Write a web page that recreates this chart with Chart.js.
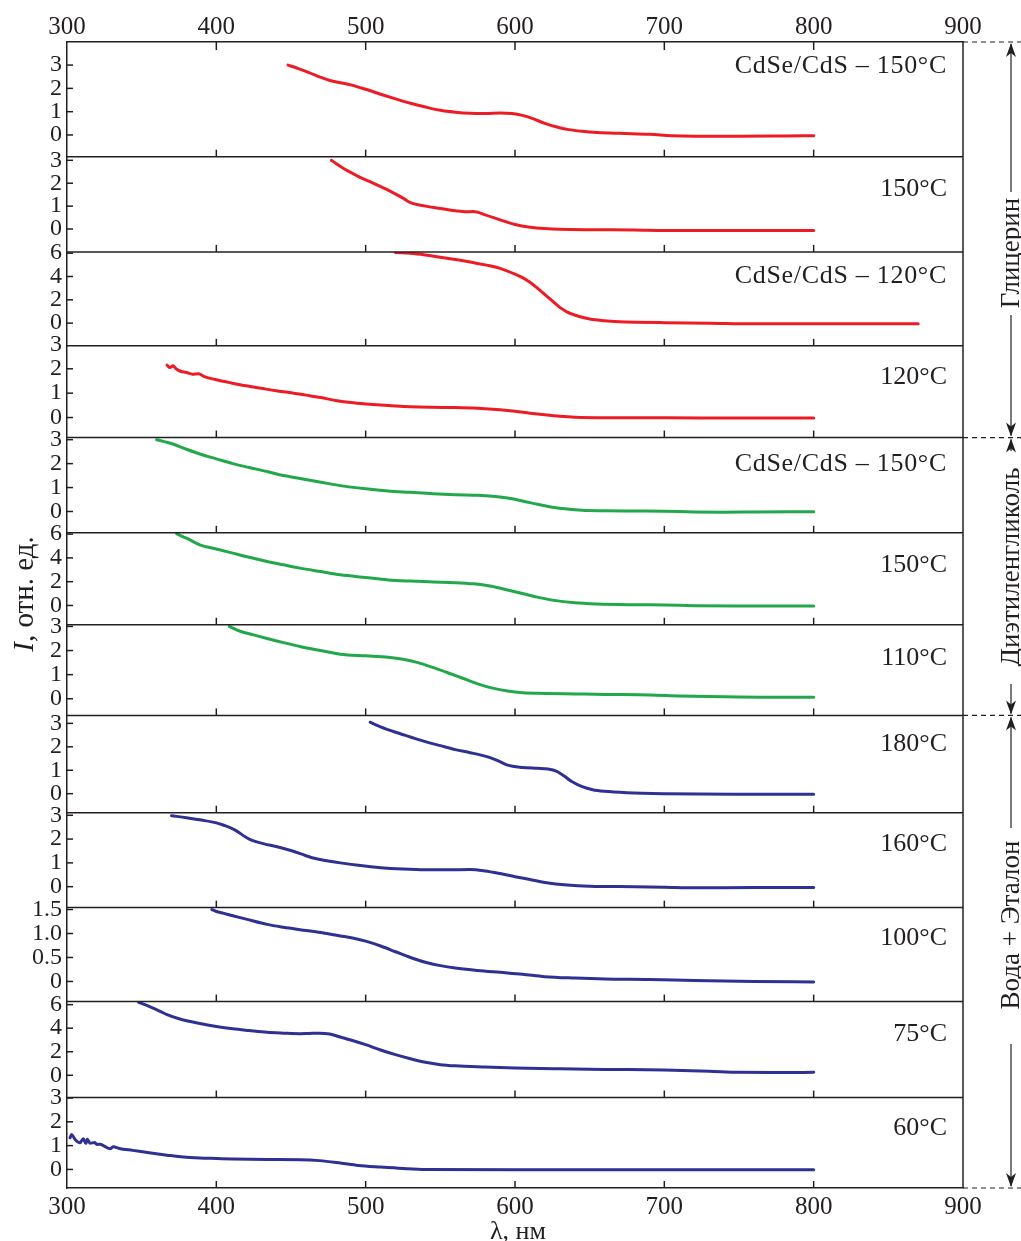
<!DOCTYPE html>
<html><head><meta charset="utf-8">
<script src="https://cdn.jsdelivr.net/npm/chart.js@4.4.1/dist/chart.umd.min.js"></script>
<style>html,body{margin:0;padding:0;background:#fff}canvas{display:block}</style>
</head><body>
<canvas id="c" width="1021" height="1241"></canvas>
<script>
// ---------- DATA ----------
const xTickValues = [300, 400, 500, 600, 700, 800, 900];

const panelLabels = ['CdSe/CdS – 150°C', '150°C', 'CdSe/CdS – 120°C', '120°C',
  'CdSe/CdS – 150°C', '150°C', '110°C',
  '180°C', '160°C', '100°C', '75°C', '60°C'];

const groupNames = ['Глицерин', 'Диэтиленгликоль', 'Вода + Эталон'];

const yTickValues = [[0,1,2,3],[0,1,2,3],[0,2,4,6],[0,1,2,3],[0,1,2,3],[0,2,4,6],[0,1,2,3],[0,1,2,3],[0,1,2,3],[0,0.5,1,1.5],[0,2,4,6],[0,1,2,3]];
const yTickLabels = [['0','1','2','3'],['0','1','2','3'],['0','2','4','6'],['0','1','2','3'],['0','1','2','3'],['0','2','4','6'],['0','1','2','3'],['0','1','2','3'],['0','1','2','3'],['0','0.5','1.0','1.5'],['0','2','4','6'],['0','1','2','3']];

// Glycerin
const wl_g_cds150 = [448,455,462,470,476,483,490,500,510,520,530,540,550,560,570,580,590,598,605,612,620,628,636,645,655,670,690,705,720,750,780,800];
const I_g_cds150  = [3.0,2.85,2.68,2.47,2.34,2.24,2.15,1.96,1.75,1.55,1.36,1.2,1.06,0.98,0.93,0.92,0.94,0.92,0.84,0.7,0.5,0.34,0.23,0.16,0.11,0.07,0.03,-0.03,-0.05,-0.05,-0.04,-0.03];
const wl_g_150 = [477,485,495,505,515,525,530,540,550,560,567,572,580,590,600,610,620,630,650,680,700,750,800];
const I_g_150  = [3.0,2.65,2.3,2.0,1.7,1.35,1.15,1.0,0.9,0.8,0.75,0.76,0.62,0.4,0.2,0.08,0.02,-0.01,-0.03,-0.04,-0.06,-0.06,-0.06];
const wl_g_cds120 = [520,530,540,550,560,570,580,590,600,605,610,615,620,625,630,635,640,645,650,660,670,680,700,730,760,800,840,870];
const I_g_cds120  = [6.05,6.0,5.85,5.65,5.45,5.25,5.0,4.7,4.2,3.9,3.5,3.0,2.45,1.9,1.35,0.95,0.7,0.5,0.35,0.2,0.12,0.08,0.04,0.0,-0.05,-0.05,-0.06,-0.06];
const wl_g_120 = [367,369,371,373,376,380,384,388,392,400,410,420,430,440,450,460,470,480,490,500,510,520,530,545,560,575,590,600,610,620,630,640,660,700,750,800];
const I_g_120  = [2.15,2.05,2.12,2.0,1.9,1.85,1.78,1.8,1.68,1.55,1.42,1.3,1.2,1.1,1.02,0.92,0.82,0.7,0.62,0.56,0.51,0.47,0.44,0.42,0.41,0.38,0.32,0.26,0.18,0.11,0.05,0.01,-0.01,-0.01,-0.02,-0.02];
// Diethylene glycol
const wl_d_cds150 = [360,365,371,380,390,400,411,422,434,445,456,470,483,500,515,530,545,560,575,585,595,605,615,625,635,645,660,680,700,720,740,760,800];
const I_d_cds150  = [3.0,2.92,2.82,2.6,2.38,2.2,2.0,1.84,1.67,1.5,1.38,1.22,1.08,0.95,0.86,0.8,0.74,0.7,0.68,0.64,0.56,0.44,0.3,0.18,0.1,0.05,0.03,0.02,0.01,-0.02,-0.03,-0.02,-0.01];
const wl_d_150 = [373.5,380,389,400,411,422,434,445,456,470,483,500,515,530,545,560,572,585,595,605,615,625,640,655,680,700,720,750,770,800];
const I_d_150  = [6.02,5.66,5.1,4.75,4.4,4.05,3.7,3.42,3.14,2.85,2.58,2.35,2.15,2.05,1.98,1.92,1.82,1.6,1.3,1.0,0.7,0.45,0.22,0.12,0.06,0.04,-0.02,-0.05,-0.04,-0.04];
const wl_d_110 = [408.7,416,425,434,445,456,470,483,500,515,525,535,545,555,565,575,585,595,605,620,640,660,690,710,740,770,800];
const I_d_110  = [3.0,2.8,2.65,2.5,2.33,2.17,2.0,1.85,1.78,1.72,1.64,1.5,1.3,1.08,0.85,0.62,0.44,0.32,0.25,0.22,0.2,0.18,0.16,0.12,0.08,0.06,0.06];
// Water + reference
const wl_w_180 = [503,510,520,530,540,550,560,570,580,588,595,605,615,622,628,633,638,645,652,660,675,700,750,800];
const I_w_180  = [3.05,2.85,2.62,2.42,2.22,2.05,1.88,1.75,1.6,1.42,1.22,1.12,1.08,1.05,0.95,0.75,0.52,0.3,0.17,0.1,0.04,0.0,-0.02,-0.02];
const wl_w_160 = [370,380,390,400,405,412,422,432,440,451,460,467,475,483,495,510,525,540,555,570,580,590,600,610,620,635,650,680,700,720,760,800];
const I_w_160  = [2.98,2.9,2.8,2.68,2.58,2.4,2.0,1.8,1.69,1.5,1.3,1.17,1.08,1.0,0.9,0.8,0.74,0.71,0.71,0.72,0.66,0.55,0.42,0.3,0.18,0.07,0.02,0.0,-0.02,-0.05,-0.03,-0.03];
const wl_w_100 = [397,400,405,411,420,434,445,456,470,483,492,500,510,520,530,540,550,560,575,590,605,620,640,660,690,720,760,800];
const I_w_100  = [1.5,1.46,1.42,1.37,1.3,1.19,1.13,1.08,1.02,0.95,0.9,0.84,0.74,0.62,0.5,0.4,0.33,0.28,0.23,0.19,0.15,0.1,0.07,0.05,0.04,0.02,0.0,-0.01];
const wl_w_75 = [348,355,362,367,375,389,400,411,422,434,445,456,462,469,476,483,490,500,510,520,530,540,550,560,580,600,630,660,700,730,750,780,800];
const I_w_75  = [6.2,5.85,5.45,5.15,4.8,4.4,4.15,3.95,3.8,3.65,3.58,3.53,3.55,3.58,3.5,3.25,3.0,2.6,2.15,1.75,1.4,1.1,0.9,0.8,0.7,0.62,0.55,0.5,0.45,0.35,0.25,0.24,0.25];
const wl_w_60 = [302,303.1,305.4,308.7,310.9,312.7,313.6,315.4,318.7,319.9,322,325,328.8,331,335,344,355,367,378,389,400,411,434,456,469,483,495,510,525,540,600,700,800];
const I_w_60  = [1.33,1.47,1.26,1.12,1.29,1.09,1.27,1.1,1.13,1.05,1.06,0.98,0.87,0.95,0.88,0.8,0.7,0.6,0.52,0.48,0.46,0.44,0.42,0.41,0.37,0.27,0.17,0.1,0.04,0.0,-0.01,-0.01,-0.01];

// ---------- STYLE / LAYOUT ----------
const RED = '#ed1c24', GREEN = '#22a84a', BLUE = '#2e3192';
const INK = '#231f20';
const SERIF = '"Liberation Serif", "Times New Roman", serif';

const panels = [
  {wl: wl_g_cds150, I: I_g_cds150, color: RED},
  {wl: wl_g_150, I: I_g_150, color: RED},
  {wl: wl_g_cds120, I: I_g_cds120, color: RED},
  {wl: wl_g_120, I: I_g_120, color: RED},
  {wl: wl_d_cds150, I: I_d_cds150, color: GREEN},
  {wl: wl_d_150, I: I_d_150, color: GREEN},
  {wl: wl_d_110, I: I_d_110, color: GREEN},
  {wl: wl_w_180, I: I_w_180, color: BLUE},
  {wl: wl_w_160, I: I_w_160, color: BLUE},
  {wl: wl_w_100, I: I_w_100, color: BLUE},
  {wl: wl_w_75, I: I_w_75, color: BLUE},
  {wl: wl_w_60, I: I_w_60, color: BLUE}
];
const yMin = [-0.93,-1.0,-1.95,-0.82,-0.89,-1.62,-0.69,-0.81,-0.88,-0.42,-1.89,-0.78];
const yMax = [3.99,3.16,6.11,2.94,3.09,6.11,3.07,3.34,3.11,1.54,6.26,3.02];
const panelWeights = [114.7,95.3,94,91.7,95.3,92,90.7,97.3,95,94,96,90.5];
const labelOffsets = [31,39,31,38,33,39,40,36,38,37,39,37];
const groups = [[0,3],[4,6],[7,11]];
const groupTextCenter = [253, 567, 925];
const groupGap = [[192,315],[451,684],[828,1044]];

const datasets = panels.map((p, i) => ({
  data: p.wl.map((x, k) => ({x: x, y: p.I[k]})),
  borderColor: p.color,
  borderWidth: 3,
  pointRadius: 0,
  fill: false,
  cubicInterpolationMode: 'monotone',
  borderJoinStyle: 'round',
  borderCapStyle: 'round',
  xAxisID: 'x',
  yAxisID: 'y' + i
}));

const tickFont = {family: SERIF, size: 25};
const yFont = {family: SERIF, size: 24};

const scales = {
  x: {
    type: 'linear', axis: 'x', position: 'bottom', min: 300, max: 900,
    afterBuildTicks: s => { s.ticks = xTickValues.map(v => ({value: v})); },
    afterFit: s => { s.height = 53; },
    ticks: {font: tickFont, color: INK, padding: 4, maxRotation: 0, autoSkip: false, callback: v => String(v)},
    grid: {display: false, drawTicks: false},
    border: {display: true, color: INK, width: 1.5}
  },
  xTop: {
    type: 'linear', axis: 'x', position: 'top', min: 300, max: 900,
    afterBuildTicks: s => { s.ticks = xTickValues.map(v => ({value: v})); },
    afterFit: s => { s.height = 42; },
    ticks: {font: tickFont, color: INK, padding: 0, maxRotation: 0, autoSkip: false, callback: v => String(v)},
    grid: {display: false, drawTicks: false},
    border: {display: true, color: INK, width: 1.5}
  }
};
// left-stacked axes are placed in reverse definition order, so define bottom panel first
for (let i = panels.length - 1; i >= 0; i--) {
  scales['y' + i] = {
    type: 'linear', axis: 'y', position: 'left', stack: 'panels', stackWeight: panelWeights[i],
    min: yMin[i], max: yMax[i],
    afterBuildTicks: s => { s.ticks = yTickValues[i].map(v => ({value: v})); },
    afterFit: s => { s.width = 67; },
    ticks: {font: yFont, color: INK, padding: 5, autoSkip: false,
            callback: (v, idx) => yTickLabels[i][idx]},
    grid: {display: false, drawTicks: false},
    border: {display: true, color: INK, width: 1.5}
  };
}

function seg(ctx, x1, y1, x2, y2) { ctx.beginPath(); ctx.moveTo(x1, y1); ctx.lineTo(x2, y2); ctx.stroke(); }
function arrowHead(ctx, x, y, dir) { // dir -1 = up, +1 = down
  ctx.beginPath();
  ctx.moveTo(x, y);
  ctx.lineTo(x - 5, y - dir * 14);
  ctx.lineTo(x, y - dir * 10);
  ctx.lineTo(x + 5, y - dir * 14);
  ctx.closePath();
  ctx.fill();
}

const decorPlugin = {
  id: 'decor',
  afterDraw(chart) {
    const ctx = chart.ctx, ca = chart.chartArea, xs = chart.scales.x;
    const n = panels.length;
    ctx.save();
    ctx.strokeStyle = INK; ctx.fillStyle = INK; ctx.lineWidth = 1.5; ctx.lineCap = 'butt';
    seg(ctx, ca.right, ca.top, ca.right, ca.bottom);
    xs.ticks.forEach(t => {
      const px = xs.getPixelForValue(t.value);
      if (px > ca.left + 2 && px < ca.right - 2) seg(ctx, px, ca.top, px, ca.top + 8);
    });
    for (let i = 0; i < n; i++) {
      const s = chart.scales['y' + i];
      if (i < n - 1) seg(ctx, ca.left, s.bottom, ca.right, s.bottom);
      xs.ticks.forEach(t => {
        const px = xs.getPixelForValue(t.value);
        if (px > ca.left + 2 && px < ca.right - 2) seg(ctx, px, s.bottom, px, s.bottom - 7);
      });
      s.ticks.forEach(t => {
        if (t.value < s.min || t.value > s.max) return;
        const py = s.getPixelForValue(t.value);
        seg(ctx, ca.left, py, ca.left + 6, py);
      });
      ctx.font = '26px ' + SERIF;
      ctx.textAlign = 'right'; ctx.textBaseline = 'alphabetic';
      ctx.letterSpacing = panelLabels[i].length > 8 ? '0.7px' : '0px';
      ctx.fillText(panelLabels[i], 947, s.top + labelOffsets[i]);
      ctx.letterSpacing = '0px';
    }
    const W = chart.width, ax = 1011;
    const bounds = [chart.scales['y0'].top, chart.scales['y3'].bottom, chart.scales['y6'].bottom, chart.scales['y11'].bottom];
    ctx.lineWidth = 1.2;
    ctx.setLineDash([5, 4]);
    bounds.forEach(b => seg(ctx, ca.right, b, W, b));
    ctx.setLineDash([]);
    groups.forEach((g, k) => {
      const top = chart.scales['y' + g[0]].top, bot = chart.scales['y' + g[1]].bottom;
      const gap = groupGap[k];
      seg(ctx, ax, top + 2, ax, gap[0]);
      seg(ctx, ax, gap[1], ax, bot - 2);
      arrowHead(ctx, ax, top + 1, -1);
      arrowHead(ctx, ax, bot - 1, 1);
      ctx.save();
      ctx.translate(1019, groupTextCenter[k]);
      ctx.rotate(-Math.PI / 2);
      ctx.font = '27px ' + SERIF;
      ctx.textAlign = 'center'; ctx.textBaseline = 'alphabetic';
      ctx.fillText(groupNames[k], 0, 0);
      ctx.restore();
    });
    ctx.save();
    ctx.translate(33, 594);
    ctx.rotate(-Math.PI / 2);
    ctx.textBaseline = 'alphabetic'; ctx.textAlign = 'left';
    const f1 = 'italic 29px ' + SERIF, f2 = '29px ' + SERIF;
    ctx.font = f1; const w1 = ctx.measureText('I').width;
    ctx.font = f2; const w2 = ctx.measureText(', отн. ед.').width;
    const x0 = -(w1 + w2) / 2;
    ctx.font = f1; ctx.fillText('I', x0, 0);
    ctx.font = f2; ctx.fillText(', отн. ед.', x0 + w1, 0);
    ctx.restore();
    ctx.font = '26px ' + SERIF;
    ctx.textAlign = 'center'; ctx.textBaseline = 'alphabetic';
    ctx.fillText('λ, нм', 518, 1239);
    ctx.restore();
  }
};

new Chart(document.getElementById('c'), {
  type: 'line',
  data: {datasets: datasets},
  options: {
    responsive: false,
    animation: false,
    devicePixelRatio: 1,
    layout: {padding: {left: 0, right: 58, top: 0, bottom: 0}},
    plugins: {legend: {display: false}, tooltip: {enabled: false}, title: {display: false}},
    scales: scales
  },
  plugins: [decorPlugin]
});
</script>
</body></html>
